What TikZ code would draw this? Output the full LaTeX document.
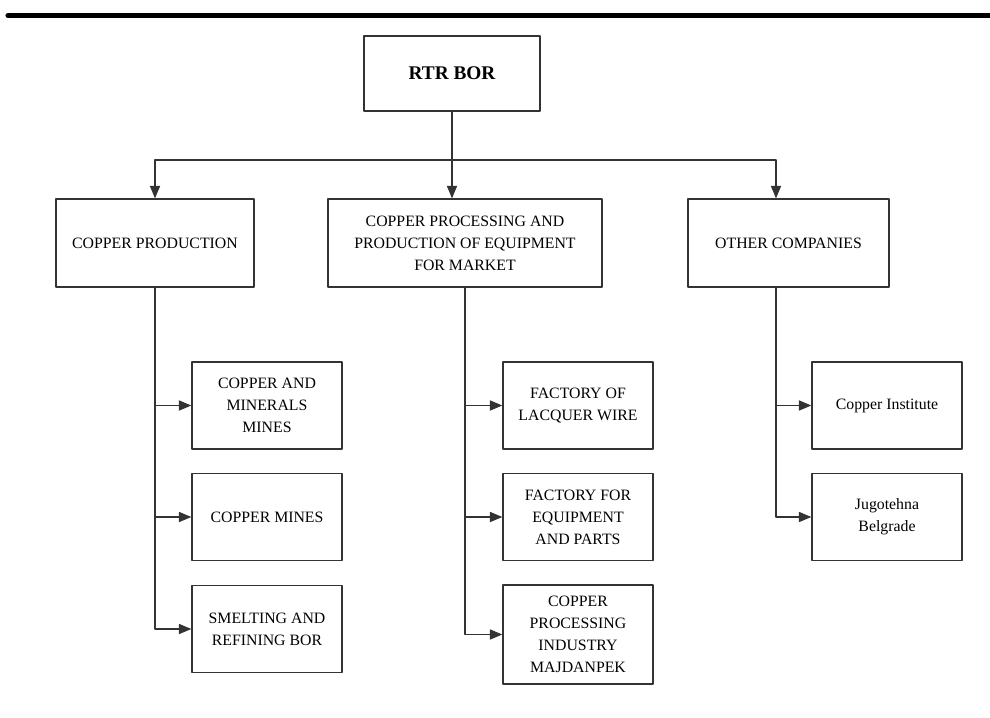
\documentclass[tikz,border=0pt]{standalone}
\usepackage{fontspec}
\setmainfont{Liberation Serif}
\usepackage{tikz}
\usetikzlibrary{arrows}

\begin{document}
\begin{tikzpicture}[line cap=round,line join=round,>=triangle 45,x=0.02cm,y=-0.02cm,
  box/.style={draw=black!80,line width=0.9pt,align=center,inner sep=0pt,
    font=\fontsize{9}{12.5}\selectfont},
  unit/.style={box,minimum width=3cm,minimum height=1.74cm}]
\useasboundingbox (0,0) rectangle (990,717);
\draw [line width=2.9pt] (8,15.5)--(990,15.5);
% top of the tree
\node[box,minimum width=3.52cm,minimum height=1.5cm,font=\fontsize{11}{13}\selectfont\bfseries] (rtr) at (452,73.5) {RTR BOR};
\node[box,minimum width=3.96cm,minimum height=1.76cm] (prod) at (155,243) {COPPER PRODUCTION};
\node[box,minimum width=5.48cm,minimum height=1.76cm] (proc) at (465,243) {COPPER PROCESSING AND\\PRODUCTION OF EQUIPMENT\\FOR MARKET};
\node[box,minimum width=4.02cm,minimum height=1.76cm] (other) at (788.5,243) {OTHER COMPANIES};
% copper production
\node[unit] (cmm) at (267,405.5) {COPPER AND\\MINERALS\\MINES};
\node[unit] (cm) at (267,517) {COPPER MINES};
\node[unit] (srb) at (267,629) {SMELTING AND\\REFINING BOR};
% processing
\node[unit] (flw) at (578,405.5) {FACTORY OF\\LACQUER WIRE};
\node[unit] (fep) at (578,517) {FACTORY FOR\\EQUIPMENT\\AND PARTS};
\node[unit,minimum height=1.98cm] (cpi) at (578,634.5) {COPPER\\PROCESSING\\INDUSTRY\\MAJDANPEK};
% others
\node[unit] (ci) at (887,405.5) {Copper Institute};
\node[unit] (jb) at (887,517) {Jugotehna\\Belgrade};

\coordinate (bus) at (452,160);
\coordinate (orail) at (776,287);
\begin{scope}[draw=black!80,line width=0.6pt]
\draw (rtr.south)--(bus);
\draw [->] (bus)-|(prod.north);
\draw [->] (bus)--(bus |- proc.north);
\draw [->] (bus)-|(orail |- other.north);
\draw [->] (prod.south)|-(cmm.west);
\draw [->] (prod.south)|-(cm.west);
\draw [->] (prod.south)|-(srb.west);
\draw [->] (proc.south)|-(flw.west);
\draw [->] (proc.south)|-(fep.west);
\draw [->] (proc.south)|-(cpi.west);
\draw [->] (orail)|-(ci.west);
\draw [->] (orail)|-(jb.west);
\end{scope}
\end{tikzpicture}
\end{document}
